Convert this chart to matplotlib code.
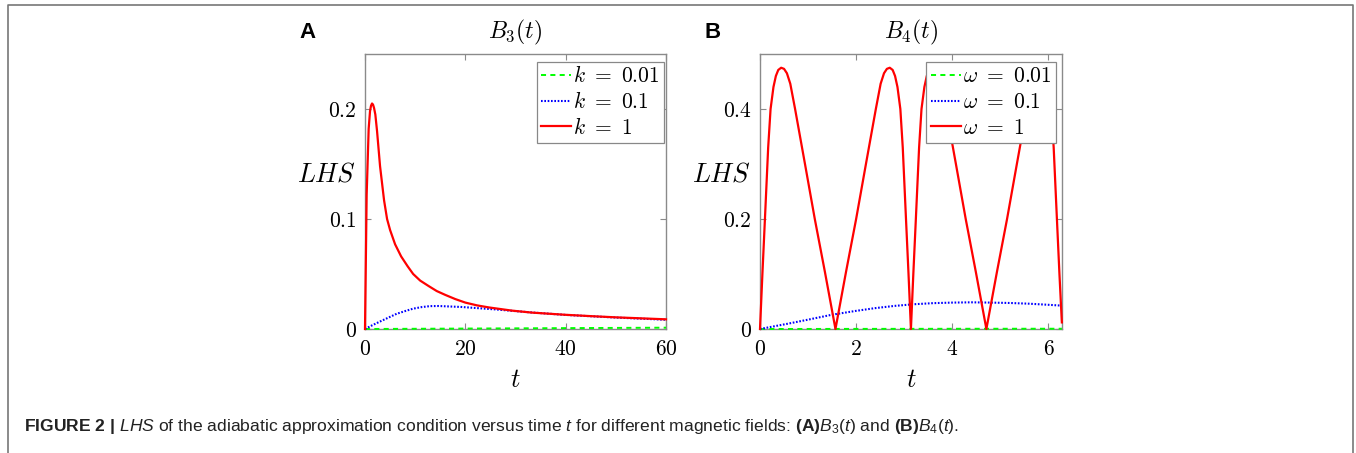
import numpy as np
import matplotlib.pyplot as plt
from matplotlib.lines import Line2D
from matplotlib import font_manager

installed = {f.name for f in font_manager.fontManager.ttflist}
cap_font = 'Liberation Sans Narrow' if 'Liberation Sans Narrow' in installed else 'Liberation Sans'

plt.rcParams['mathtext.fontset'] = 'cm'
plt.rcParams['mathtext.rm'] = cap_font
plt.rcParams['mathtext.it'] = cap_font + ':italic'
plt.rcParams['mathtext.bf'] = cap_font + ':bold'
plt.rcParams['font.family'] = 'Liberation Sans'

# Panel A: B3(t), LHS vs t for three k values
t_k001 = [0, 20, 40, 60]
lhs_k001 = [0, 0.0004, 0.0008, 0.0012]

t_k01 = [0, 1.4, 3.0, 4.5, 6.3, 8.0, 9.6, 11.4, 13.0, 14.7, 19.3, 26.0, 33.3,
         40, 50, 60]
lhs_k01 = [0, 0.0033, 0.0068, 0.0100, 0.0138, 0.0163, 0.0185, 0.0200, 0.0208,
           0.0209, 0.0200, 0.0178, 0.0150, 0.0128, 0.0104, 0.0084]

t_k1 = [0, 0.33, 0.73, 1.0, 1.2, 1.4, 1.6, 1.8, 2.06, 2.4, 3.0, 3.8, 4.4, 5.0,
        6.0, 7.2, 8.5, 9.6, 11.0, 12.7, 14.3, 16.0, 18.0, 20.0, 22.3, 24.7,
        29.3, 33.3, 40, 45, 50, 55, 60]
lhs_k1 = [0, 0.122, 0.182, 0.198, 0.203, 0.205, 0.204, 0.201, 0.195, 0.180,
          0.148, 0.117, 0.100, 0.090, 0.077, 0.066, 0.057, 0.050, 0.044,
          0.039, 0.0345, 0.031, 0.0272, 0.0240, 0.0215, 0.0196, 0.0167,
          0.0149, 0.0129, 0.0117, 0.0106, 0.0097, 0.0088]

# Panel B: B4(t), LHS vs t for three omega values
t_w001 = [0, 2, 4, 6.28]
lhs_w001 = [0, 0.0002, 0.0004, 0.0005]

t_w01 = [0, 0.3, 0.6, 1.0, 1.5, 2.0, 2.4, 2.8, 3.2, 3.6, 4.0, 4.4, 4.8, 5.2,
         5.6, 6.0, 6.28]
lhs_w01 = [0, 0.005, 0.010, 0.017, 0.026, 0.033, 0.038, 0.042, 0.045, 0.047,
           0.048, 0.0485, 0.048, 0.0473, 0.046, 0.044, 0.0425]

t_w1 = [0, 0.05, 0.10, 0.17, 0.22, 0.28, 0.33, 0.38, 0.44, 0.50, 0.56, 0.63, 0.73,
        0.94, 1.14, 1.35, 1.57,
        1.79, 2.00, 2.20, 2.41, 2.51, 2.58, 2.64, 2.70, 2.76, 2.81, 2.86, 2.92,
        2.97, 3.04, 3.09, 3.14,
        3.19, 3.24, 3.31, 3.36, 3.42, 3.47, 3.52, 3.58, 3.64, 3.70, 3.77, 3.87,
        4.08, 4.28, 4.49, 4.71,
        4.93, 5.14, 5.34, 5.55, 5.65, 5.72, 5.78, 5.84, 5.90, 5.95, 6.00, 6.06,
        6.11, 6.18, 6.23, 6.28]
lhs_w1 = [0, 0.100, 0.195, 0.330, 0.400, 0.440, 0.460, 0.471, 0.475, 0.473, 0.465, 0.446, 0.400,
          0.298, 0.200, 0.104, 0,
          0.104, 0.200, 0.298, 0.400, 0.446, 0.465, 0.473, 0.475, 0.471, 0.460, 0.440, 0.400,
          0.330, 0.195, 0.100, 0,
          0.100, 0.195, 0.330, 0.400, 0.440, 0.460, 0.471, 0.475, 0.473, 0.465, 0.446, 0.400,
          0.298, 0.200, 0.104, 0,
          0.104, 0.200, 0.298, 0.400, 0.446, 0.465, 0.473, 0.475, 0.471, 0.460, 0.440, 0.400,
          0.330, 0.195, 0.100, 0.012]

fig = plt.figure(figsize=(13.56, 4.53), dpi=100)
W, H = 1356, 453

# outer frame (open at bottom)
frame = [(8, H + 5), (8, 4.5), (1353, 4.5), (1353, H + 5)]
fig.add_artist(Line2D([p[0] / W for p in frame], [1 - p[1] / H for p in frame],
                      color='#777777', lw=1.2, transform=fig.transFigure))

spine_col = '#8a8a8a'


def setup(ax, xlim, ylim, xticks, yticks, xtl, ytl):
    ax.set_xlim(*xlim)
    ax.set_ylim(*ylim)
    ax.set_xticks(xticks, [f'${s}$' for s in xtl])
    ax.set_yticks(yticks, [f'${s}$' for s in ytl])
    ax.tick_params(direction='in', length=4, width=0.8, color=spine_col,
                   top=True, right=True, labelsize=15.5)
    ax.tick_params(axis='x', pad=7)
    ax.tick_params(axis='y', pad=6)
    for s in ax.spines.values():
        s.set_color(spine_col)
        s.set_linewidth(1.0)
    ax.set_xlabel('$t$', fontsize=19, va='center')
    ax.xaxis.set_label_coords(0.5, -0.185)
    ax.set_ylabel('$LHS$', fontsize=19, rotation=0, ha='center', va='center')
    ax.yaxis.set_label_coords(-0.128, 0.56)


green = dict(color='#00ff00', ls=(0, (2.6, 2.2)), lw=1.4, clip_on=False, zorder=3)
blue = dict(color='#0000ff', ls=(0, (0.8, 0.8)), lw=1.5, clip_on=False, zorder=3)
red = dict(color='#ff0000', ls='-', lw=1.6, clip_on=False, zorder=3)

legkw = dict(loc='upper right', borderaxespad=0, fancybox=False, framealpha=1,
             edgecolor='#888888', fontsize=15.5, handlelength=1.4,
             handletextpad=0.1, labelspacing=0.22, borderpad=0.2)

# Panel A
axA = fig.add_axes([365 / W, 1 - 329 / H, 301 / W, 275 / H])
axA.plot(t_k001, lhs_k001, label=r'$k\ =\ 0.01$', **green)
axA.plot(t_k01, lhs_k01, label=r'$k\ =\ 0.1$', **blue)
axA.plot(t_k1, lhs_k1, label=r'$k\ =\ 1$', **red)
setup(axA, (0, 60), (0, 0.25), [0, 20, 40, 60], [0, 0.1, 0.2],
      ['0', '20', '40', '60'], ['0', '0.1', '0.2'])
legA = axA.legend(bbox_to_anchor=((664 - 365) / 301, (329 - 62) / 275), **legkw)
legA.get_frame().set_linewidth(0.9)
axA.text(0.5, 1.077, '$B_3(t)$', transform=axA.transAxes, ha='center',
         va='center', fontsize=17)
axA.text(-0.19, 1.077, 'A', transform=axA.transAxes, ha='center', va='center',
         fontsize=16, fontweight='bold')

# Panel B
axB = fig.add_axes([760 / W, 1 - 329 / H, 302 / W, 275 / H])
axB.plot(t_w001, lhs_w001, label=r'$\omega\ =\ 0.01$', **green)
axB.plot(t_w01, lhs_w01, label=r'$\omega\ =\ 0.1$', **blue)
axB.plot(t_w1, lhs_w1, label=r'$\omega\ =\ 1$', **red)
setup(axB, (0, 2 * np.pi), (0, 0.5), [0, 2, 4, 6], [0, 0.2, 0.4],
      ['0', '2', '4', '6'], ['0', '0.2', '0.4'])
legB = axB.legend(bbox_to_anchor=((1056 - 760) / 302, (329 - 62) / 275), **legkw)
legB.get_frame().set_linewidth(0.9)
axB.text(0.5, 1.077, '$B_4(t)$', transform=axB.transAxes, ha='center',
         va='center', fontsize=17)
axB.text(-0.156, 1.077, 'B', transform=axB.transAxes, ha='center', va='center',
         fontsize=16, fontweight='bold')

caption = (r'$\mathbf{FIGURE\ 2\ |}$ $\mathit{LHS}$ of the adiabatic approximation '
           r'condition versus time $\mathit{t}$ for different magnetic fields: '
           r'$\mathbf{(A)}\mathit{B}_{3}\mathrm{(}\mathit{t}\mathrm{)}$ and '
           r'$\mathbf{(B)}\mathit{B}_{4}\mathrm{(}\mathit{t}\mathrm{)}$.')
cap = fig.text(24 / W, 1 - 427 / H, caption, ha='left', va='center', fontsize=10,
               color='#222222', family=cap_font, math_fontfamily='custom')

# scale the caption so it spans the same width as in the reference (~934 px)
fig.canvas.draw()
w = cap.get_window_extent().width
cap.set_fontsize(10 * 934 / w)

fig.savefig('out.png', dpi=100)
